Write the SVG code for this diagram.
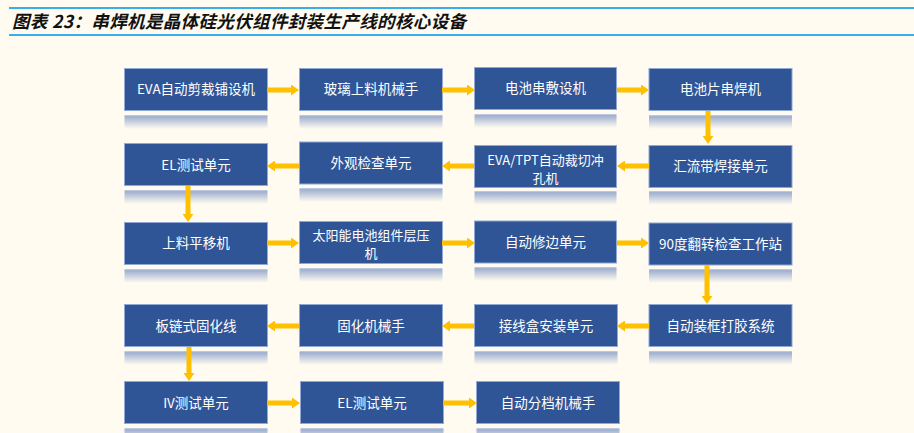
<svg xmlns="http://www.w3.org/2000/svg" width="914" height="433" viewBox="0 0 914 433">
<style>
.box{fill:#2F5597;stroke:#8FA8D4;stroke-width:1}
.refl{fill:url(#rg)}
.t{font-family:"Noto Sans CJK SC","Noto Sans",sans-serif;font-size:13.5px;fill:#FFFFFF;text-anchor:middle}
.t2{font-size:13px}
.title{font-family:"Noto Sans CJK SC",sans-serif;font-size:17.5px;font-weight:bold;font-style:italic;fill:#111111}
.ar{stroke:#FFC000;stroke-width:5;fill:none;marker-end:url(#ah)}
</style>
<defs>
<linearGradient id="rg" x1="0" y1="0" x2="0" y2="1">
<stop offset="0" stop-color="#C9D3E6"/>
<stop offset="0.12" stop-color="#9EAFD0"/>
<stop offset="1" stop-color="#FFFBF0" stop-opacity="0.9"/>
</linearGradient>
<marker id="ah" viewBox="0 0 8 11" refX="0" refY="5.5" markerWidth="8" markerHeight="11" markerUnits="userSpaceOnUse" orient="auto">
<path d="M0,0 L8,5.5 L0,11 Z" fill="#FFC000"/>
</marker>
</defs>
<rect width="914" height="433" fill="#FFFBF0"/>
<line x1="9" y1="8" x2="914" y2="8" stroke="#3AAEE6" stroke-width="2"/>
<line x1="9" y1="35" x2="914" y2="35" stroke="#3AAEE6" stroke-width="2"/>
<text class="title" x="12" y="27.5" textLength="454" lengthAdjust="spacing">图表 23：串焊机是晶体硅光伏组件封装生产线的核心设备</text>

<g id="n1"><rect class="refl" x="124.5" y="115" width="143" height="14"/><rect class="box" x="124.5" y="68.5" width="143" height="42"/><text class="t" x="196" y="94">EVA自动剪裁铺设机</text></g>
<g id="n2"><rect class="refl" x="299.5" y="115" width="143" height="14"/><rect class="box" x="299.5" y="68.5" width="143" height="42"/><text class="t" x="371" y="94">玻璃上料机械手</text></g>
<g id="n3"><rect class="refl" x="474.5" y="114" width="142" height="14"/><rect class="box" x="474.5" y="67.5" width="142" height="42"/><text class="t" x="545.5" y="93">电池串敷设机</text></g>
<g id="n4"><rect class="refl" x="649" y="115" width="143" height="14"/><rect class="box" x="649" y="68.5" width="143" height="42"/><text class="t" x="720.5" y="94">电池片串焊机</text></g>

<g id="n5"><rect class="refl" x="124.5" y="190" width="143" height="14"/><rect class="box" x="124.5" y="143.5" width="143" height="42"/><text class="t" x="196" y="170">EL测试单元</text></g>
<g id="n6"><rect class="refl" x="299.5" y="188" width="143" height="14"/><rect class="box" x="299.5" y="142" width="143" height="42"/><text class="t" x="371" y="168">外观检查单元</text></g>
<g id="n7"><rect class="refl" x="474.5" y="191" width="142" height="14"/><rect class="box" x="474.5" y="145.5" width="142" height="42"/><text class="t t2" x="545.5" y="164.5">EVA/TPT自动裁切冲</text><text class="t t2" x="545.5" y="182.5">孔机</text></g>
<g id="n8"><rect class="refl" x="649" y="191" width="143" height="14"/><rect class="box" x="649" y="145.5" width="143" height="42"/><text class="t" x="720.5" y="171">汇流带焊接单元</text></g>

<g id="n9"><rect class="refl" x="124.5" y="269" width="143" height="14"/><rect class="box" x="124.5" y="222.5" width="143" height="42"/><text class="t" x="196" y="248">上料平移机</text></g>
<g id="n10"><rect class="refl" x="299.5" y="268" width="143" height="14"/><rect class="box" x="299.5" y="221.5" width="143" height="42"/><text class="t t2" x="371" y="240">太阳能电池组件层压</text><text class="t t2" x="371" y="258">机</text></g>
<g id="n11"><rect class="refl" x="474.5" y="267" width="142" height="14"/><rect class="box" x="474.5" y="221" width="142" height="42"/><text class="t" x="545.5" y="247">自动修边单元</text></g>
<g id="n12"><rect class="refl" x="649" y="269" width="143" height="14"/><rect class="box" x="649" y="223" width="143" height="42"/><text class="t" x="720.5" y="249">90度翻转检查工作站</text></g>

<g id="n13"><rect class="refl" x="124.5" y="351" width="143" height="14"/><rect class="box" x="124.5" y="304.5" width="143" height="42"/><text class="t" x="196" y="331">板链式固化线</text></g>
<g id="n14"><rect class="refl" x="299.5" y="351" width="143" height="14"/><rect class="box" x="299.5" y="304.5" width="143" height="42"/><text class="t" x="371" y="331">固化机械手</text></g>
<g id="n15"><rect class="refl" x="474.5" y="351" width="143" height="14"/><rect class="box" x="474.5" y="304.5" width="143" height="42"/><text class="t" x="546" y="331">接线盒安装单元</text></g>
<g id="n16"><rect class="refl" x="649" y="351" width="143" height="14"/><rect class="box" x="649" y="304.5" width="143" height="42"/><text class="t" x="720.5" y="331">自动装框打胶系统</text></g>

<g id="n17"><rect class="refl" x="124.5" y="428" width="143" height="14"/><rect class="box" x="124.5" y="381.5" width="143" height="42"/><text class="t" x="196" y="408">IV测试单元</text></g>
<g id="n18"><rect class="refl" x="300.5" y="428" width="143" height="14"/><rect class="box" x="300.5" y="381.5" width="143" height="42"/><text class="t" x="372" y="408">EL测试单元</text></g>
<g id="n19"><rect class="refl" x="476.5" y="428" width="143" height="14"/><rect class="box" x="476.5" y="381.5" width="143" height="42"/><text class="t" x="548" y="408">自动分档机械手</text></g>

<g id="connectors">
<path class="ar" d="M267,90 H291"/>
<path class="ar" d="M442,90 H467"/>
<path class="ar" d="M617,90 H641"/>
<path class="ar" d="M708,111 V136"/>
<path class="ar" d="M649,166 H625"/>
<path class="ar" d="M474,166 H450"/>
<path class="ar" d="M299,166 H275"/>
<path class="ar" d="M188,186 V214"/>
<path class="ar" d="M267,243 H291"/>
<path class="ar" d="M442,243 H467"/>
<path class="ar" d="M617,243 H641"/>
<path class="ar" d="M707,265 V296"/>
<path class="ar" d="M649,326 H625"/>
<path class="ar" d="M474,326 H450"/>
<path class="ar" d="M299,326 H275"/>
<path class="ar" d="M189,347 V373"/>
<path class="ar" d="M267,403 H292"/>
<path class="ar" d="M443,403 H469"/>
</g>
</svg>
